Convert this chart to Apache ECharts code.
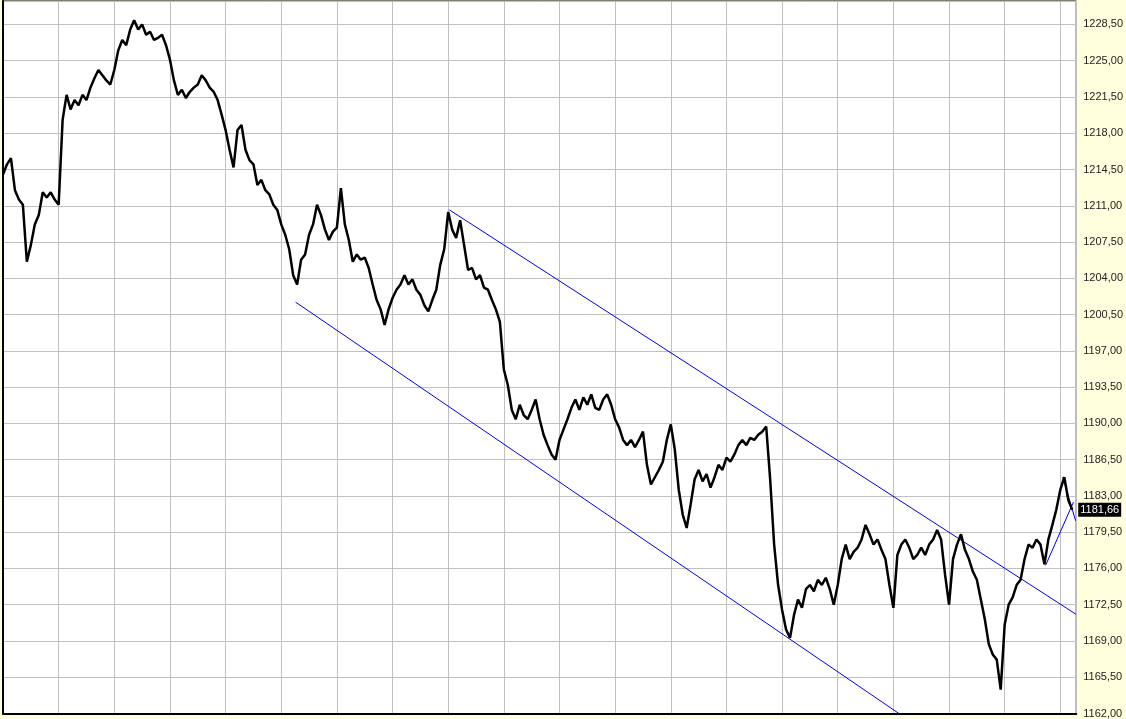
<!DOCTYPE html>
<html>
<head>
<meta charset="utf-8">
<script src="https://cdn.jsdelivr.net/npm/echarts@6/dist/echarts.min.js"></script>
<style>
html,body{margin:0;padding:0;background:#FFFFDD;}
#c{width:1126px;height:719px;}
</style>
</head>
<body>
<div id="c"></div>
<script>
// price series, one value per bar (index 0..269)
const prices = [
1214.0,1215.0,1215.6,1212.5,1211.6,1211.1,1205.6,1207.2,1209.2,1210.1,
1212.3,1211.8,1212.3,1211.6,1211.1,1219.3,1221.7,1220.3,1221.2,1220.7,
1221.7,1221.2,1222.4,1223.3,1224.1,1223.6,1223.1,1222.7,1224.1,1226.0,
1227.0,1226.5,1228.0,1228.9,1228.0,1228.5,1227.5,1227.8,1227.0,1227.2,
1227.5,1226.5,1225.1,1223.1,1221.7,1222.2,1221.4,1222.0,1222.4,1222.7,
1223.6,1223.1,1222.4,1222.0,1221.2,1219.8,1218.3,1216.4,1214.7,1218.3,
1218.8,1216.4,1215.4,1215.0,1213.0,1213.5,1212.5,1212.1,1211.1,1210.6,
1209.2,1208.2,1206.8,1204.3,1203.4,1205.8,1206.3,1208.2,1209.2,1211.1,
1210.1,1208.7,1207.7,1208.5,1208.9,1212.7,1209.2,1207.7,1205.6,1206.3,
1205.8,1206.0,1205.0,1203.4,1201.9,1201.0,1199.5,1201.0,1202.1,1202.9,
1203.4,1204.3,1203.4,1203.9,1202.9,1202.4,1201.4,1200.8,1201.9,1202.9,
1205.3,1206.8,1210.4,1208.7,1207.9,1209.6,1207.2,1204.8,1205.0,1203.9,
1204.3,1203.1,1202.9,1201.9,1201.0,1199.8,1195.2,1193.7,1191.3,1190.4,
1191.8,1190.8,1190.4,1191.3,1192.3,1190.4,1188.9,1187.9,1187.0,1186.5,
1188.4,1189.4,1190.4,1191.5,1192.3,1191.3,1192.5,1191.8,1192.8,1191.5,
1191.3,1192.3,1192.8,1191.8,1190.4,1189.6,1188.4,1187.9,1188.4,1187.7,
1188.4,1189.2,1186.0,1184.1,1184.8,1185.5,1186.3,1188.4,1189.9,1187.5,
1183.6,1181.2,1179.9,1182.2,1184.6,1185.5,1184.4,1185.1,1183.8,1184.8,
1186.0,1185.5,1186.7,1186.3,1187.0,1187.9,1188.4,1187.9,1188.6,1188.4,
1188.9,1189.2,1189.7,1184.6,1178.3,1174.4,1172.0,1170.1,1169.3,1171.5,
1173.0,1172.2,1174.0,1174.4,1173.8,1174.9,1174.4,1175.1,1174.0,1172.5,
1174.4,1176.9,1178.3,1176.9,1177.6,1178.0,1178.8,1180.2,1179.3,1178.3,
1178.8,1177.8,1176.9,1174.4,1172.2,1177.3,1178.3,1178.8,1178.0,1176.9,
1177.3,1178.0,1177.3,1178.3,1178.8,1179.7,1178.8,1175.4,1172.5,1176.9,
1178.3,1179.3,1177.8,1176.9,1175.7,1174.9,1173.0,1171.1,1168.7,1167.7,
1167.2,1164.3,1170.6,1172.5,1173.2,1174.4,1174.9,1176.9,1178.3,1178.0,
1178.8,1178.3,1176.4,1178.8,1180.2,1181.7,1183.6,1184.8,1182.6,1181.66
];
const lastPrice = 1181.66;
// trend lines: [barIndex, price] endpoints
const upperChannel = [[112.3, 1210.6], [269.85, 1171.6]];
const lowerChannel = [[73.6, 1201.7], [225.4, 1162.0]];
const wedgeA = [[266.6, 1184.8], [269.85, 1180.6]];
const wedgeB = [[262.3, 1176.3], [269.3, 1182.4]];
// y axis scale
const yMin = 1162, yMax = 1230.76, yStep = 3.5;
const xMax = 270, xStep = 14;

const fmt = v => v.toFixed(2).replace('.', ',');
const chart = echarts.init(document.getElementById('c'), null, {renderer: 'canvas'});
const lineSeries = (d) => ({
  type: 'line', data: d, symbol: 'none', silent: true,
  lineStyle: {color: '#0000EE', width: 1}, z: 3
});
chart.setOption({
  animation: false,
  backgroundColor: '#FFFFDD',
  grid: {left: 3, right: 49, top: 1, bottom: 5, show: true, backgroundColor: '#FFFFFF', borderColor: '#000', borderWidth: 1},
  xAxis: {
    type: 'value', min: 0, max: xMax, interval: xStep,
    axisLabel: {show: false}, axisTick: {show: false},
    axisLine: {show: true, lineStyle: {color: '#000', width: 2}},
    splitLine: {show: true, lineStyle: {color: '#C0C0C0', width: 1}}
  },
  yAxis: {
    type: 'value', position: 'right', min: yMin, max: yMax, interval: yStep,
    axisLine: {show: true, lineStyle: {color: '#000', width: 2}},
    axisTick: {show: false},
    axisLabel: {showMaxLabel: false, margin: 7, color: '#222', fontSize: 11, fontFamily: 'Liberation Sans, Arial, sans-serif', formatter: fmt},
    splitLine: {show: true, lineStyle: {color: '#C0C0C0', width: 1}}
  },
  series: [
    {
      type: 'line', data: prices.map((p, i) => [i, p]), symbol: 'none', silent: true,
      lineStyle: {color: '#000', width: 2.5}, z: 4,
      markLine: {
        silent: true, symbol: 'none', animation: false,
        lineStyle: {color: 'rgba(0,0,0,0)', width: 0},
        label: {show: true, position: 'end', distance: 2, formatter: () => fmt(lastPrice), color: '#fff', backgroundColor: '#000', padding: [2, 2, 1, 2], fontSize: 11, fontFamily: 'Liberation Sans, Arial, sans-serif'},
        data: [{yAxis: lastPrice}]
      }
    },
    lineSeries(upperChannel),
    lineSeries(lowerChannel),
    lineSeries(wedgeA),
    lineSeries(wedgeB)
  ]
});
</script>
</body>
</html>
